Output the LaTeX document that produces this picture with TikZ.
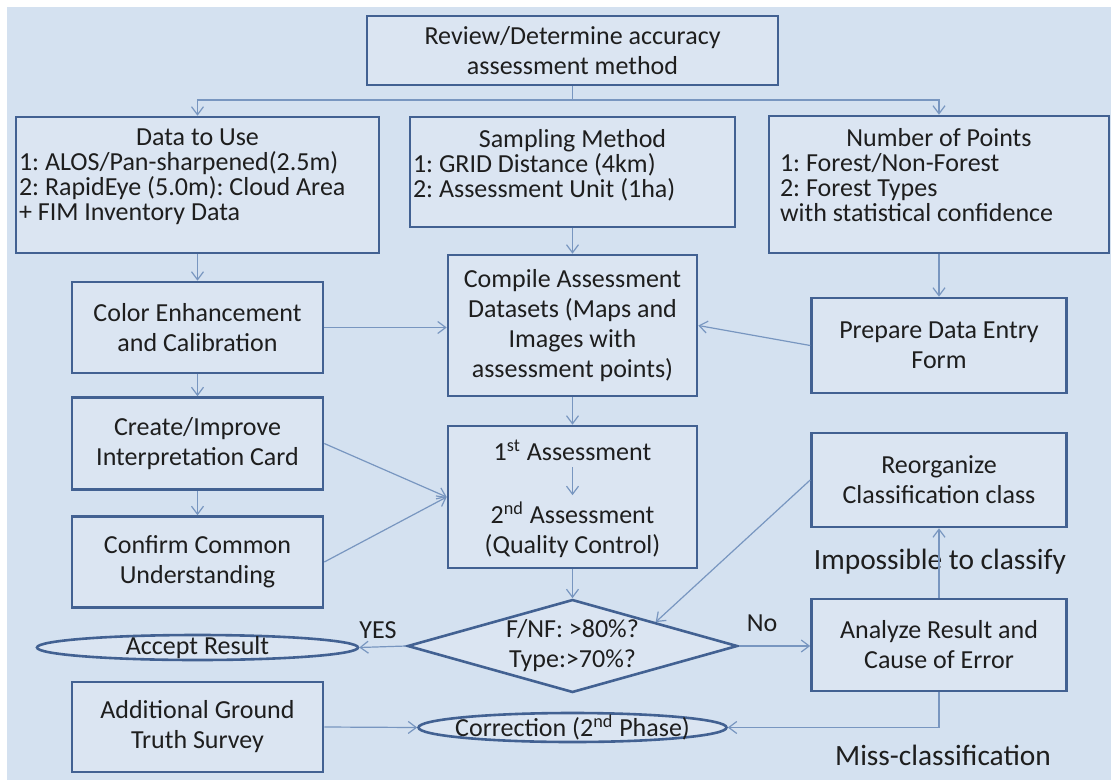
\documentclass[tikz,border=0pt]{standalone}
\usepackage{fontspec}
\setmainfont{Carlito}
\usetikzlibrary{arrows.meta,shapes.geometric}
\definecolor{hintergrund}{RGB}{212,225,240}
\definecolor{kastenfill}{RGB}{219,229,242}
\definecolor{rahmen}{RGB}{66,97,146}
\definecolor{linienfarbe}{RGB}{120,150,192}
\definecolor{schrift}{RGB}{30,30,30}
\frenchspacing

\begin{document}
\begin{tikzpicture}[x=0.5pt, y=-0.5pt, >={Straight Barb[length=4pt,width=6pt]},
	font=\fontsize{13}{15}\selectfont, text=schrift,
	kasten/.style={draw=rahmen, line width=1.3pt, fill=kastenfill, align=center, inner sep=0pt},
	oben/.style={draw=rahmen, line width=1.3pt, fill=kastenfill, inner sep=0pt,
		font={\fontsize{13}{12.5}\selectfont\lineskiplimit=-20pt}},
	oval/.style={ellipse, draw=rahmen, line width=1.3pt, fill=kastenfill, inner sep=0pt},
	raute/.style={diamond, aspect=3.5, draw=rahmen, line width=1.3pt, fill=kastenfill, align=center, inner sep=0pt},
	pfeil/.style={->, draw=linienfarbe, line width=0.6pt},
	linie/.style={draw=linienfarbe, line width=0.6pt}]
	
	% Hintergrund
	\useasboundingbox (0,0) rectangle (1111,780);
	\fill[hintergrund] (7,7) rectangle (1111,780);
	
	% Start
	\node[kasten, minimum width=205.5pt, minimum height=34.5pt] (review) at (572.5,50.5) {Review/Determine accuracy\\assessment method};
	
	% Obere Reihe
	\node[oben, minimum width=181.5pt, minimum height=68pt] (data) at (197.5,185) {\parbox[c][56pt][t]{178.5pt}{{\centering Data to Use\par}\raggedright 1: ALOS/Pan-sharpened(2.5m)\\2: RapidEye (5.0m): Cloud Area\\+ FIM Inventory Data}};
	\node[oben, minimum width=162.5pt, minimum height=55pt] (sampling) at (572.5,172) {\parbox[c][43pt][t]{159.5pt}{{\centering Sampling Method\par}\raggedright 1: GRID Distance (4km)\\2: Assessment Unit (1ha)}};
	\node[oben, minimum width=170pt, minimum height=68.5pt] (number) at (939,184.5) {\parbox[c][56.5pt][t]{159pt}{{\centering Number of Points\par}\raggedright 1: Forest/Non-Forest\\2: Forest Types\\with statistical confidence}};
	
	% Linke Spalte
	\node[kasten, minimum width=125.5pt, minimum height=45.5pt] (color) at (197.5,327.5) {Color Enhancement\\and Calibration};
	\node[kasten, minimum width=125.5pt, minimum height=46pt] (create) at (197.5,443.5) {Create/Improve\\Interpretation Card};
	\node[kasten, minimum width=125.5pt, minimum height=45.5pt] (confirm) at (197.5,562) {Confirm Common\\Understanding};
	\node[oval, minimum width=160.5pt, minimum height=12.5pt, label=center:{Accept Result}] (accept) at (197.5,647.5) {};
	\node[kasten, minimum width=125.5pt, minimum height=45pt] (additional) at (197.5,727) {Additional Ground\\Truth Survey};
	
	% Mittlere Spalte
	\node[kasten, minimum width=124.5pt, minimum height=70.5pt] (compile) at (572.5,325.5) {Compile Assessment\\Datasets (Maps and\\Images with\\assessment points)};
	\node[kasten, minimum width=124.5pt, minimum height=71pt] (assess) at (572.5,497) {};
	\node (erste) at (572.5,450) {1\textsuperscript{st} Assessment};
	\node[align=center] (zweite) at (572.5,530) {2\textsuperscript{nd} Assessment\\(Quality Control)};
	\node[raute, minimum width=165pt, minimum height=46.5pt] (raute) at (572.5,646) {F/NF: >80\%?\\Type:>70\%?};
	\node[oval, minimum width=154pt, minimum height=14.5pt, label=center:{Correction (2\textsuperscript{nd} Phase)}] (correction) at (572.5,727.5) {};
	
	% Rechte Spalte
	\node[kasten, minimum width=127.5pt, minimum height=47.5pt] (prepare) at (939,345.5) {Prepare Data Entry\\Form};
	\node[kasten, minimum width=127.5pt, minimum height=47pt] (reorganize) at (939,480) {Reorganize\\Classification class};
	\node[kasten, minimum width=127.5pt, minimum height=46pt] (analyze) at (939,645) {Analyze Result and\\Cause of Error};
	
	% Beschriftungen
	\node (yes) at (378,630) {YES};
	\node (no) at (762,623) {No};
	\node[font=\fontsize{14.7}{17}\selectfont] (impossible) at (940,562) {Impossible to classify};
	\node[font=\fontsize{14.7}{17}\selectfont] (miss) at (943,755) {Miss-classification};
	
	% Verbindungen oben
	\coordinate (verzweig) at (572.5,100);
	\draw[linie] (review.south) -- (verzweig);
	\draw[pfeil] (verzweig) -| (data.north);
	\draw[pfeil] (verzweig) -| (number.north);
	
	% Verbindungen links
	\draw[pfeil] (data) -- (color);
	\draw[pfeil] (color) -- (create);
	\draw[pfeil] (create) -- (confirm);
	\draw[pfeil] (color.east) -- (compile.west |- color.east);
	\draw[pfeil] (create.east) -- (assess.west);
	\draw[pfeil] (confirm.east) -- (assess.west);
	\draw[pfeil] (additional.east) -- (correction.west);
	
	% Verbindungen Mitte
	\draw[pfeil] (sampling) -- (compile);
	\draw[pfeil] (compile) -- (assess);
	\draw[pfeil] (erste) -- (zweite);
	\draw[pfeil] (assess) -- (raute);
	\draw[pfeil] (raute.west) -- (accept.east);
	\draw[pfeil] (raute.east) -- (analyze.west |- raute.east);
	
	% Verbindungen rechts
	\draw[pfeil] (number) -- (prepare);
	\draw[pfeil] (prepare.west) -- (compile.east);
	\draw[pfeil] (analyze) -- (reorganize);
	\draw[pfeil] (reorganize.west) -- (raute.north east);
	\draw[pfeil] (analyze.south) |- (correction.east);
\end{tikzpicture}
\end{document}
